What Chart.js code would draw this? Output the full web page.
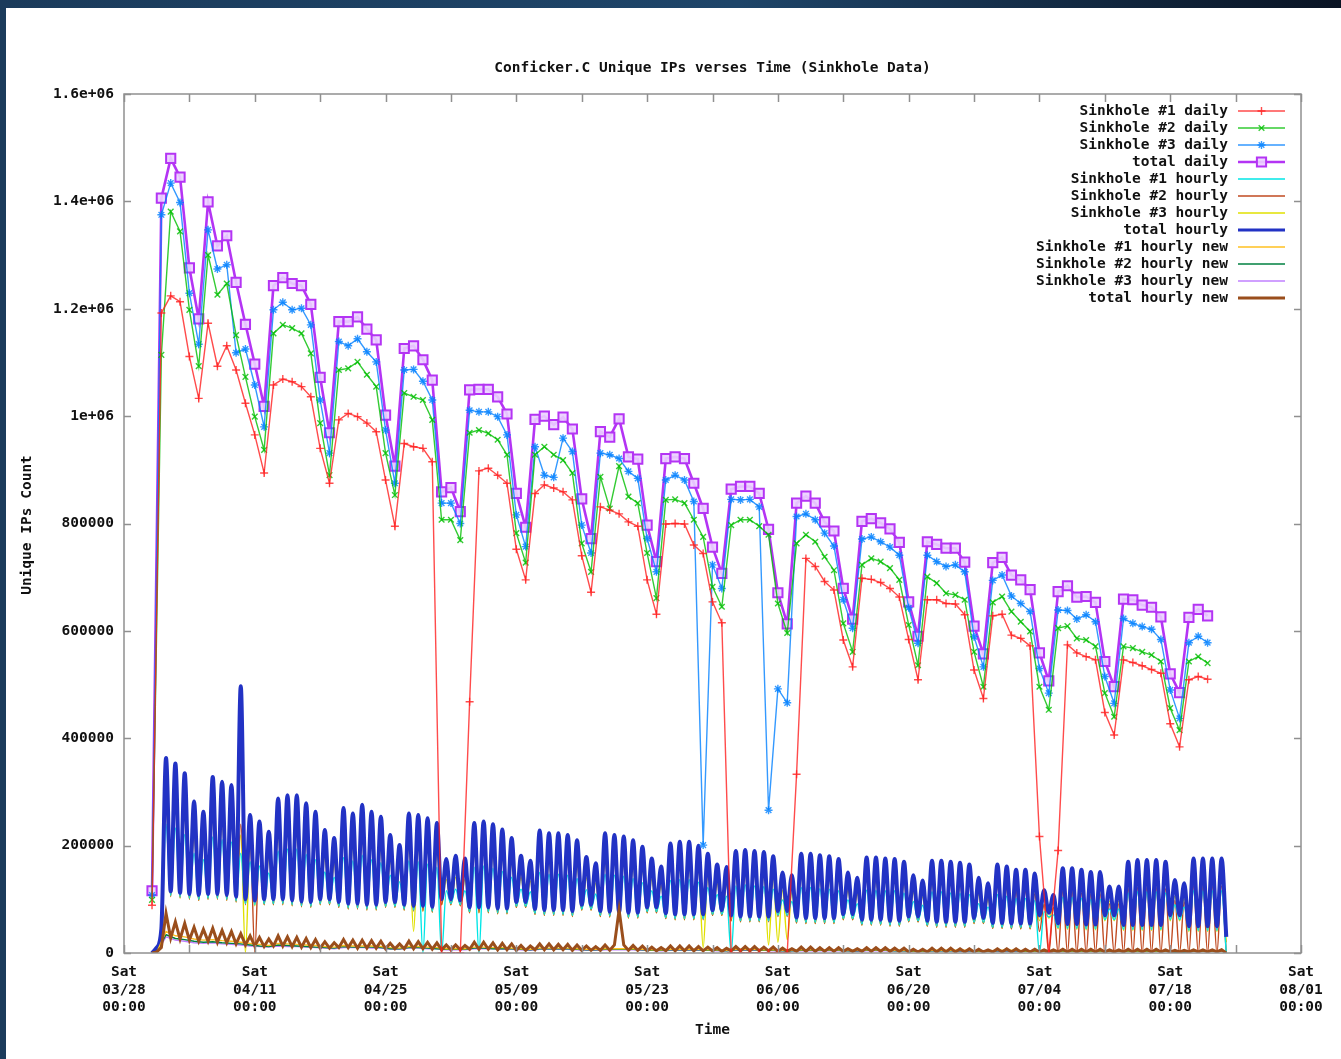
<!DOCTYPE html>
<html>
<head>
<meta charset="utf-8">
<script src="https://cdn.jsdelivr.net/npm/chart.js@4.4.1/dist/chart.umd.min.js"></script>
<style>
  html, body { margin: 0; padding: 0; }
  body { width: 1341px; height: 1059px; overflow: hidden; position: relative;
         background: linear-gradient(to right, #1b3b5b 0%, #1e4569 55%, #0a1424 100%); }
  #wrap { position: absolute; left: 6px; top: 8px; width: 1335px; height: 1051px; background: #fff; }
</style>
</head>
<body>
<div id="wrap"><canvas id="myChart" width="1335" height="1051"></canvas></div>
<script>
// days are counted from Sat 03/28 00:00; daily values start on 03/31 (day 3)
const firstDay = 3;
const tickDates = ["03/28", "04/11", "04/25", "05/09", "05/23", "06/06", "06/20", "07/04", "07/18", "08/01"];

// daily unique IPs, one value per day (03/31 .. 07/22)
const sink1Daily = [89000,1192000,1224000,1213000,1111000,1033000,1173000,1093000,1131000,1086000,
  1024000,965000,894000,1058000,1069000,1064000,1055000,1036000,940000,875000,
  993000,1005000,999000,987000,971000,881000,795000,949000,943000,940000,
  915000,0,0,0,468000,898000,903000,890000,875000,752000,
  695000,856000,872000,866000,859000,844000,740000,672000,831000,825000,
  818000,803000,795000,695000,631000,799000,800000,799000,760000,744000,
  654000,615000,0,0,0,0,0,0,0,333000,
  735000,720000,692000,676000,583000,533000,698000,696000,690000,679000,
  663000,584000,509000,658000,658000,651000,650000,630000,527000,474000,
  628000,631000,592000,586000,572000,217000,0,191000,574000,559000,
  552000,546000,448000,406000,546000,541000,535000,528000,521000,427000,
  384000,509000,515000,510000];
const sink2Daily = [99000,1114000,1381000,1344000,1198000,1093000,1300000,1226000,1247000,1151000,
  1073000,999000,937000,1154000,1170000,1164000,1154000,1117000,987000,890000,
  1086000,1089000,1101000,1077000,1055000,931000,853000,1043000,1036000,1030000,
  993000,807000,807000,769000,969000,974000,968000,956000,928000,782000,
  727000,928000,943000,928000,918000,894000,763000,710000,887000,828000,
  907000,850000,838000,745000,661000,844000,845000,838000,807000,775000,
  682000,645000,797000,807000,807000,795000,779000,651000,596000,763000,
  779000,766000,738000,713000,614000,561000,723000,735000,729000,717000,
  695000,611000,536000,701000,689000,670000,667000,658000,561000,496000,
  653000,664000,636000,617000,599000,496000,453000,605000,609000,586000,
  583000,571000,484000,440000,571000,568000,561000,555000,543000,456000,
  415000,543000,552000,540000];
const sink3Daily = [108000,1375000,1434000,1398000,1229000,1134000,1347000,1274000,1282000,1118000,
  1125000,1058000,980000,1198000,1212000,1198000,1201000,1170000,1030000,931000,
  1139000,1131000,1144000,1120000,1101000,974000,875000,1086000,1087000,1065000,
  1030000,838000,838000,800000,1011000,1008000,1008000,999000,965000,816000,
  757000,943000,890000,886000,959000,934000,797000,745000,931000,928000,
  921000,897000,884000,772000,710000,881000,890000,881000,841000,201000,
  723000,679000,845000,844000,845000,831000,266000,492000,466000,813000,
  818000,807000,782000,758000,658000,605000,771000,775000,766000,756000,
  741000,643000,577000,741000,729000,720000,723000,710000,589000,533000,
  694000,704000,665000,651000,636000,530000,484000,639000,638000,622000,
  630000,617000,515000,465000,623000,614000,608000,603000,584000,490000,
  437000,578000,590000,578000];
const totalDaily = [116000,1406000,1480000,1445000,1276000,1181000,1399000,1317000,1336000,1249000,
  1171000,1097000,1018000,1243000,1258000,1247000,1243000,1208000,1072000,969000,
  1176000,1176000,1185000,1162000,1142000,1002000,907000,1126000,1131000,1105000,
  1067000,859000,867000,822000,1049000,1050000,1050000,1036000,1004000,856000,
  793000,994000,1000000,984000,998000,976000,846000,772000,971000,961000,
  995000,924000,920000,797000,729000,921000,924000,921000,875000,828000,
  756000,707000,864000,869000,869000,856000,789000,671000,613000,838000,
  851000,838000,803000,786000,679000,622000,804000,809000,801000,790000,
  765000,654000,590000,766000,761000,754000,754000,728000,609000,557000,
  727000,737000,704000,695000,677000,559000,507000,673000,684000,663000,
  664000,653000,543000,496000,659000,658000,648000,644000,626000,520000,
  485000,625000,640000,628000];

// hourly series, in thousands of IPs: the daily trough (00:00, days 3..118)
// and the daily crest (12:00, days 3..117)
const totalHourlyLowK = [0,45,115,112,110,108,110,110,108,105,
  100,98,100,100,100,98,96,95,100,100,
  95,92,92,90,90,95,95,90,88,88,
  86,100,100,98,85,85,85,83,83,95,
  95,82,80,80,80,78,90,90,78,77,
  76,75,75,85,85,74,72,72,72,72,
  80,80,70,68,68,68,68,78,78,66,
  65,65,65,65,72,72,62,62,62,60,
  60,68,68,60,58,58,58,58,65,65,
  56,56,55,55,55,70,75,55,54,54,
  53,53,70,70,52,52,52,52,52,70,
  70,50,50,50,50,30];
const totalHourlyPeakK = [10,363,353,335,282,263,328,319,313,497,
  257,245,226,288,294,294,279,263,229,214,
  270,260,276,263,254,220,201,260,257,251,
  242,175,181,176,242,245,240,230,214,181,
  172,228,223,223,220,210,179,167,223,220,
  217,210,198,176,161,204,207,207,200,185,
  165,160,190,192,190,188,180,150,145,185,
  185,182,180,175,150,140,178,178,176,175,
  170,145,135,172,172,170,168,165,140,130,
  165,161,155,155,148,117,108,158,158,155,
  151,151,124,124,170,173,173,173,170,136,
  130,176,176,176,176];
const sink1HourlyLowK = [0,35,107,104,102,100,102,102,100,97,
  92,90,92,92,92,90,88,87,92,92,
  87,84,84,82,82,87,87,82,80,0,
  78,0,92,90,77,0,77,75,75,87,
  87,74,72,72,72,70,82,82,70,69,
  68,67,67,77,77,66,64,64,64,64,
  72,72,0,60,60,60,60,70,70,58,
  57,57,57,57,64,64,54,54,54,52,
  52,60,60,52,50,50,50,50,57,57,
  48,48,47,47,47,0,67,47,46,46,
  45,45,62,62,44,44,44,44,44,62,
  62,42,42,42,42,0];
const sink1HourlyPeakK = [7,240,233,221,186,174,216,211,207,186,
  170,162,149,190,194,194,184,174,151,141,
  178,172,182,174,168,145,133,172,170,166,
  160,116,119,116,160,162,158,152,141,119,
  114,150,147,147,145,139,118,110,147,145,
  143,139,131,116,106,135,137,137,132,122,
  109,106,125,127,125,124,119,99,96,122,
  122,120,119,116,99,92,117,117,116,116,
  112,96,89,114,114,112,111,109,92,86,
  109,106,102,102,98,77,71,104,104,102,
  100,100,82,82,112,114,114,114,112,90,
  86,116,116,116,116];
const sink2HourlyLowK = [0,40,105,103,100,98,100,100,98,95,
  90,0,90,90,90,88,86,85,90,90,
  85,82,82,80,80,85,85,80,78,78,
  76,90,90,88,75,75,75,73,73,85,
  85,72,70,70,70,68,80,80,68,67,
  66,65,65,75,75,64,62,62,62,62,
  70,70,60,58,58,58,58,68,68,56,
  55,55,55,55,62,62,52,52,52,50,
  50,58,58,50,48,48,48,48,55,55,
  46,46,45,45,45,40,0,0,0,0,
  0,0,0,0,0,0,0,0,0,0,
  0,0,0,0,0,0];
const sink2HourlyPeakK = [8,300,295,280,235,220,275,268,262,240,
  215,205,190,242,248,248,235,222,193,180,
  228,220,232,222,214,186,170,220,217,212,
  205,148,153,149,205,207,203,195,181,153,
  145,193,189,189,186,178,151,141,189,186,
  183,178,167,149,136,172,175,175,169,156,
  139,135,160,162,160,159,152,127,122,156,
  156,154,152,148,127,118,150,150,149,148,
  143,122,114,145,145,143,142,139,118,110,
  125,120,115,115,110,90,85,115,115,112,
  110,110,92,92,120,122,122,122,120,98,
  95,125,125,125,125];
const sink3HourlyLowK = [0,35,105,102,100,98,100,100,98,95,
  0,88,90,90,90,88,86,85,90,90,
  85,82,82,80,80,85,85,80,40,78,
  76,90,90,88,75,75,75,73,73,85,
  85,72,70,70,70,68,80,80,68,67,
  66,65,65,75,75,64,62,62,62,10,
  70,70,60,58,58,58,15,20,25,56,
  55,55,55,55,62,62,52,52,52,50,
  50,58,58,50,48,48,48,48,55,55,
  46,46,45,45,45,60,65,45,44,44,
  43,43,60,60,42,42,42,42,42,60,
  60,40,40,40,40,20];
const sink3HourlyPeakK = [8,283,275,261,220,205,256,249,244,220,
  200,191,176,225,229,229,218,205,179,167,
  211,203,215,205,198,172,157,203,200,196,
  189,137,141,137,189,191,187,179,167,141,
  134,178,174,174,172,164,140,130,174,172,
  169,164,154,137,126,159,161,161,156,144,
  129,125,148,150,148,147,140,117,113,144,
  144,142,140,137,117,109,139,139,137,137,
  133,113,105,134,134,133,131,129,109,101,
  129,126,121,121,115,91,84,123,123,121,
  118,118,97,97,133,135,135,135,133,106,
  101,137,137,137,137];
const totalNewLowK = [0,10,28,26,24,22,22,20,19,17,
  15,13,12,13,13,12,11,10,9,9,
  10,10,9,9,9,8,8,8,8,8,
  7,6,6,6,7,7,7,6,6,5,
  5,6,6,6,6,5,5,5,5,5,
  80,5,5,4,4,4,4,4,4,4,
  4,3,4,4,4,4,4,3,3,3,
  3,3,3,3,3,3,3,3,3,3,
  3,2,2,2,2,2,2,2,2,2,
  2,2,2,2,2,2,2,2,2,2,
  2,2,2,2,2,2,2,2,2,2,
  2,2,2,2,2,0];
const totalNewPeakK = [2,74,58,55,48,44,46,42,40,36,
  32,29,26,32,30,29,27,25,21,19,
  25,24,24,23,22,18,17,22,21,20,
  19,15,15,14,20,20,19,18,17,14,
  13,17,17,16,16,15,13,12,15,15,
  15,14,13,11,10,13,13,13,12,11,
  10,9,12,12,12,11,11,9,8,11,
  11,10,10,10,8,8,10,10,10,9,
  9,7,7,9,9,9,8,8,7,6,
  8,8,8,7,7,6,6,7,7,7,
  7,7,6,6,7,7,7,7,6,5,
  5,6,6,6,6];
// new IPs per sinkhole, one value per day (12:00)
const sink1NewK = [1,40,32,30,26,24,25,23,22,20,18,16,14,18,17,16,15,14,12,11,
  14,13,13,13,12,10,9,12,12,11,10,8,8,8,11,11,10,10,9,8,
  7,9,9,9,9,8,7,7,8,8,8,8,7,6,6,7,7,7,7,6,
  6,5,7,7,7,6,6,5,5,6,6,6,6,6,5,5,6,6,6,5,
  5,4,4,5,5,5,5,5,4,4,5,5,5,4,4,4,4,4,4,4,
  4,4,4,4,4,4,4,4,4,3,3,4,4,4,4];
const sink2NewK = [1,34,27,25,22,20,21,19,18,17,15,13,12,15,14,13,12,11,10,9,
  12,11,11,11,10,8,8,10,10,9,8,7,7,7,9,9,8,8,8,7,
  6,8,8,8,8,7,6,6,7,7,7,7,6,5,5,6,6,6,6,5,
  5,4,6,6,6,5,5,4,4,5,5,5,5,5,4,4,5,5,5,4,
  4,3,3,4,4,4,4,4,3,3,4,4,4,3,3,3,3,3,3,3,
  3,3,3,3,3,3,3,3,3,2,2,3,3,3,3];
const sink3NewK = [1,30,24,22,19,18,19,17,16,15,13,12,11,13,12,12,11,10,9,8,
  10,10,10,9,9,7,7,9,9,8,8,6,6,6,8,8,8,7,7,6,
  5,7,7,7,7,6,5,5,6,6,6,6,5,5,4,5,5,5,5,5,
  4,4,5,5,5,5,4,4,4,4,4,4,4,4,4,3,4,4,4,4,
  4,3,3,4,4,4,3,3,3,3,3,3,3,3,3,3,3,3,3,3,
  3,3,3,3,3,3,3,3,3,2,2,3,3,3,3];

const FONT = "'DejaVu Sans Mono', 'Liberation Mono', monospace";

function dailyPoints(arr) {
    return arr.map((v, i) => ({ x: firstDay + i, y: v }));
}
function hourlyPoints(lowK, peakK) {
    const pts = [];
    lowK.forEach((v, i) => {
        pts.push({ x: firstDay + i, y: v * 1000 });
        if (i < peakK.length) pts.push({ x: firstDay + i + 0.5, y: peakK[i] * 1000 });
    });
    return pts;
}
function noonPoints(arrK) {
    return arrK.map((v, i) => ({ x: firstDay + i + 0.5, y: v * 1000 }));
}

function lineSet(label, data, color, width, order, extra) {
    return Object.assign({
        label: label, data: data, borderColor: color, backgroundColor: color,
        borderWidth: width, pointRadius: 0, pointHoverRadius: 0, tension: 0, order: order
    }, extra || {});
}
const smooth = { cubicInterpolationMode: "monotone" };

const datasets = [
    lineSet("Sinkhole #1 daily", dailyPoints(sink1Daily), "rgba(255,30,30,0.8)", 1.4, 0,
        { pointStyle: "cross", pointRadius: 4, pointBorderWidth: 1.4 }),
    lineSet("Sinkhole #2 daily", dailyPoints(sink2Daily), "rgba(0,190,0,0.8)", 1.4, 0,
        { pointStyle: "crossRot", pointRadius: 4, pointBorderWidth: 1.4 }),
    lineSet("Sinkhole #3 daily", dailyPoints(sink3Daily), "rgba(0,128,255,0.8)", 1.4, 0,
        { pointStyle: "star", pointRadius: 4, pointBorderWidth: 1.4 }),
    lineSet("total daily", dailyPoints(totalDaily), "#b434f4", 2.6, 0,
        { pointStyle: "rect", pointRadius: 6.5, pointBorderWidth: 2, pointBackgroundColor: "rgba(235,210,255,0.9)" }),
    lineSet("Sinkhole #1 hourly", hourlyPoints(sink1HourlyLowK, sink1HourlyPeakK), "#00e6e6", 1.4, 4, smooth),
    lineSet("Sinkhole #2 hourly", hourlyPoints(sink2HourlyLowK, sink2HourlyPeakK), "#c04a20", 1.4, 4, smooth),
    lineSet("Sinkhole #3 hourly", hourlyPoints(sink3HourlyLowK, sink3HourlyPeakK), "#e0e000", 1.4, 4, smooth),
    lineSet("total hourly", hourlyPoints(totalHourlyLowK, totalHourlyPeakK), "#2232c4", 4, 3, smooth),
    lineSet("Sinkhole #1 hourly new", noonPoints(sink1NewK), "#ffc020", 1.4, 2),
    lineSet("Sinkhole #2 hourly new", noonPoints(sink2NewK), "#008040", 1.4, 2),
    lineSet("Sinkhole #3 hourly new", noonPoints(sink3NewK), "#c080ff", 1.4, 2),
    lineSet("total hourly new", hourlyPoints(totalNewLowK, totalNewPeakK), "#9a4e1c", 3, 1)
];

const gnuplotFrame = {
    id: "gnuplotFrame",
    beforeDraw(chart) {
        const ctx = chart.ctx;
        ctx.save();
        ctx.fillStyle = "#fff";
        ctx.fillRect(0, 0, chart.width, chart.height);
        ctx.restore();
    },
    afterDraw(chart) {
        const { ctx, chartArea: a, scales } = chart;
        const xs = scales.x, ys = scales.y;
        ctx.save();
        ctx.strokeStyle = "#909090";
        ctx.lineWidth = 1.5;
        ctx.strokeRect(a.left, a.top, a.right - a.left, a.bottom - a.top);
        ctx.beginPath();
        xs.ticks.forEach(t => {
            const px = Math.round(xs.getPixelForValue(t.value)) + 0.5;
            ctx.moveTo(px, a.bottom); ctx.lineTo(px, a.bottom - 8);
            ctx.moveTo(px, a.top); ctx.lineTo(px, a.top + 8);
        });
        ys.ticks.forEach(t => {
            const py = Math.round(ys.getPixelForValue(t.value)) + 0.5;
            ctx.moveTo(a.left, py); ctx.lineTo(a.left + 7, py);
            ctx.moveTo(a.right, py); ctx.lineTo(a.right - 7, py);
        });
        ctx.stroke();

        // titles
        ctx.fillStyle = "#111";
        ctx.font = "bold 14.5px " + FONT;
        ctx.textAlign = "center";
        ctx.textBaseline = "middle";
        ctx.fillText("Conficker.C Unique IPs verses Time (Sinkhole Data)", (a.left + a.right) / 2, 60);
        ctx.fillText("Time", (a.left + a.right) / 2, 1022);
        ctx.save();
        ctx.translate(21, 517);
        ctx.rotate(-Math.PI / 2);
        ctx.fillText("Unique IPs Count", 0, 0);
        ctx.restore();

        // key, top right inside the plot
        const textRight = 1222, lineL = 1232, lineR = 1279;
        chart.data.datasets.forEach((ds, i) => {
            const yy = 103 + i * 17;
            ctx.fillStyle = "#111";
            ctx.textAlign = "right";
            ctx.fillText(ds.label, textRight, yy);
            ctx.strokeStyle = ds.borderColor;
            ctx.lineWidth = Math.min(ds.borderWidth, 3);
            ctx.beginPath();
            ctx.moveTo(lineL, yy); ctx.lineTo(lineR, yy);
            ctx.stroke();
            if (ds.pointStyle) {
                ctx.fillStyle = ds.pointBackgroundColor || ds.borderColor;
                ctx.lineWidth = ds.pointBorderWidth;
                Chart.helpers.drawPoint(ctx, { pointStyle: ds.pointStyle, radius: ds.pointRadius, rotation: 0, borderWidth: ds.pointBorderWidth }, (lineL + lineR) / 2, yy);
            }
        });
        ctx.restore();
    }
};

const ctx = document.getElementById("myChart").getContext("2d");
const myChart = new Chart(ctx, {
    type: "line",
    data: { datasets: datasets },
    options: {
        responsive: false,
        animation: false,
        events: [],
        layout: { padding: { top: 86, right: 40, left: 0, bottom: 0 } },
        plugins: { legend: { display: false }, tooltip: { enabled: false }, title: { display: false } },
        scales: {
            x: {
                type: "linear", min: 0, max: 126,
                grid: { display: false, drawTicks: false }, border: { display: false },
                afterFit: s => { s.height = 106; },
                ticks: {
                    stepSize: 7, autoSkip: false, maxRotation: 0, padding: 11, color: "#111",
                    font: { family: FONT, size: 14.5, weight: "bold", lineHeight: 1.2 },
                    callback: v => (v % 14 === 0 ? ["Sat", tickDates[v / 14], "00:00"] : "")
                }
            },
            y: {
                min: 0, max: 1600000,
                grid: { display: false, drawTicks: false }, border: { display: false },
                afterFit: s => { s.width = 118; },
                ticks: {
                    stepSize: 200000, padding: 10, color: "#111",
                    font: { family: FONT, size: 14.5, weight: "bold" },
                    callback: v => (v < 1000000 ? String(v) : (v / 1000000) + "e+06")
                }
            }
        }
    },
    plugins: [gnuplotFrame]
});
</script>
</body>
</html>
